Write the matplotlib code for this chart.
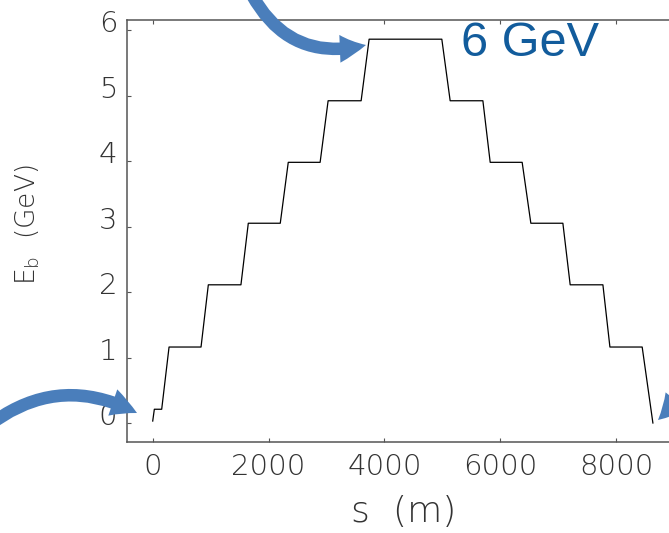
import matplotlib.pyplot as plt
import matplotlib.transforms as mtransforms
from matplotlib.patches import FancyArrowPatch

# beam energy along the recirculating linac (ramp up, then energy recovery)
s_m = [0, 28, 155, 282, 834, 960, 1523, 1650, 2202, 2340, 2890, 3028, 3598,
       3736, 4991, 5135, 5700, 5826, 6378, 6528, 7081, 7207, 7772, 7893,
       8450, 8635]
e_gev = [0.03, 0.21, 0.21, 1.16, 1.16, 2.11, 2.11, 3.05, 3.05, 3.98, 3.98,
         4.92, 4.92, 5.86, 5.86, 4.92, 4.92, 3.98, 3.98, 3.05, 3.05, 2.11,
         2.11, 1.16, 1.16, 0.0]

x_ticks = [0, 2000, 4000, 6000, 8000]
y_ticks = [0, 1, 2, 3, 4, 5, 6]

W, H = 669, 533
fig = plt.figure(figsize=(W / 100, H / 100), dpi=100)
ax = fig.add_axes([127 / W, 91 / H, 576 / W, 422 / H])

ax.plot(s_m, e_gev, color='black', lw=0.9)
ax.set_xlim(-444, 9500)
ax.set_ylim(-0.29, 6.153)

spine_col = '#555555'
for sp in ax.spines.values():
    sp.set_color(spine_col)
    sp.set_linewidth(1.1)

tick_font = dict(family='DejaVu Sans', weight='light', size=21)
ax.set_xticks(x_ticks)
ax.set_yticks(y_ticks)
ax.set_xticklabels([str(v) for v in x_ticks], fontdict=tick_font, color='#333333')
ax.set_yticklabels([str(v) for v in y_ticks], fontdict=tick_font, color='#333333')
ax.tick_params(direction='in', length=3, width=0.8, color=spine_col,
               top=True, right=True)
ax.tick_params(axis='x', pad=8)
ax.tick_params(axis='y', pad=7)

# y labels sit a little above their ticks
lift = mtransforms.ScaledTranslation(0, 9 / 100, fig.dpi_scale_trans)
for lab in ax.get_yticklabels():
    lab.set_transform(lab.get_transform() + lift)

ax.set_xlabel('s  (m)', fontsize=26, fontweight='light', color='#333333')
ax.xaxis.set_label_coords(0.481, -0.166)
ax.xaxis.label.set_va('center')
ax.set_ylabel(r'E$_\mathregular{b}$  (GeV)', fontsize=19, fontweight='light',
              color='#333333')
ax.yaxis.set_label_coords(-0.172, 0.515)
ax.yaxis.label.set_va('center')

fig.text(530 / W, 1 - 43 / H, '6 GeV', color='#125C9C', fontsize=35,
         family='Liberation Sans', ha='center', va='center')


def px(x, y):
    return (x / W, 1 - y / H)


arrow_col = '#4A7EBB'
style = 'simple,head_length=1.9,head_width=2.0,tail_width=0.9'
arrows = [
    (px(252, -5), px(366, 45), 0.38),
    (px(-12, 426), px(137, 413), -0.32),
    (px(705, 330), px(658, 420), -0.2),
]
for a, b, rad in arrows:
    fig.add_artist(FancyArrowPatch(a, b, transform=fig.transFigure,
                                   arrowstyle=style, mutation_scale=10,
                                   connectionstyle=f'arc3,rad={rad}',
                                   color=arrow_col, lw=0,
                                   shrinkA=0, shrinkB=0))

fig.savefig('out.png', dpi=100)
